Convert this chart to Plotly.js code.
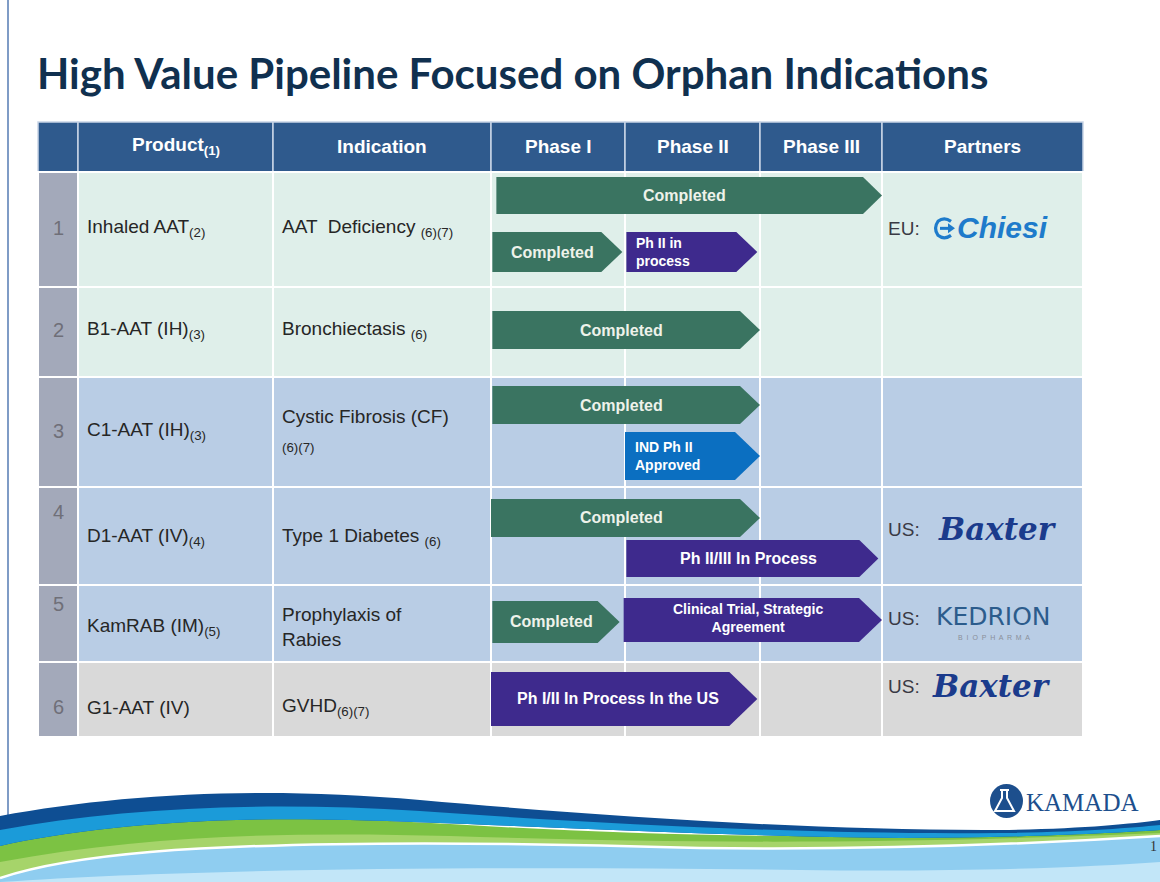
<!DOCTYPE html>
<html><head><meta charset="utf-8">
<script src="https://cdn.plot.ly/plotly-3.0.1.min.js"></script>
<style>html,body{margin:0;padding:0;background:#fff;}#chart{width:1160px;height:882px;}</style>
</head><body><div id="chart"></div>
<script>
// ---------------- DATA ----------------
const rowNumbers = ['1', '2', '3', '4', '5', '6'];
const products = ['Inhaled AAT<sub>(2)</sub>', 'B1-AAT (IH)<sub>(3)</sub>', 'C1-AAT (IH)<sub>(3)</sub>',
                  'D1-AAT (IV)<sub>(4)</sub>', 'KamRAB (IM)<sub>(5)</sub>', 'G1-AAT (IV)'];
const indications = ['AAT  Deficiency <sub>(6)(7)</sub>', 'Bronchiectasis <sub>(6)</sub>',
                     'Cystic Fibrosis (CF)<br><sub>(6)(7)</sub>', 'Type 1 Diabetes <sub>(6)</sub>',
                     'Prophylaxis of<br>Rabies', 'GVHD<sub>(6)(7)</sub>'];
const headers = ['', 'Product<sub>(1)</sub>', 'Indication', 'Phase I', 'Phase II', 'Phase III', 'Partners'];
const partnerRegions = ['EU:', '', '', 'US:', 'US:', 'US:'];
const partnerNames = ['Chiesi', '', '', 'Baxter', 'KEDRION', 'Baxter'];

// bars: row (1-based), start/end in phase units (0 = start of Phase I, 3 = end of Phase III)
const barRow    = [1, 1, 1, 2, 3, 3, 4, 4, 5, 5, 6];
const barStart  = [0.04, 0.01, 1.01, 0.01, 0.01, 1.00, 0.00, 1.01, 0.01, 0.99, 0.00];
const barEnd    = [3.00, 0.98, 1.98, 2.00, 2.00, 2.00, 2.00, 2.97, 0.96, 3.00, 1.98];
const barStatus = ['Completed', 'Completed', 'In process', 'Completed', 'Completed', 'Approved',
                   'Completed', 'In process', 'Completed', 'In process', 'In process'];
const barLabel  = ['Completed', 'Completed', 'Ph II in<br>process', 'Completed', 'Completed',
                   'IND Ph II<br>Approved', 'Completed', 'Ph II/III In Process', 'Completed',
                   'Clinical Trial, Strategic<br>Agreement', 'Ph I/II In Process In the US'];

// ---------------- LAYOUT GEOMETRY (pixel-scaled hidden axes) ----------------
const W = 1160, H = 882;
const COL_EDGES = [38, 78, 273, 491, 625, 760, 882, 1083];
const ROW_EDGES = [122, 172, 287, 377, 487, 585, 662, 737];
const PHASE_EDGES = [491, 625, 760, 882];
// lane placement of each bar inside its row: centre fraction and height (px)
const BAR_CFRAC = [0.204, 0.696, 0.696, 0.478, 0.255, 0.718, 0.316, 0.730, 0.480, 0.455, 0.493];
const BAR_H     = [37, 40, 40, 38, 38, 48, 38, 37, 42, 44, 54];
const BAR_ALIGN = ['c', 'c', 'l', 'c', 'c', 'l', 'c', 'c', 'c', 'c', 'c'];
const STATUS_COLOR = {'Completed': '#3A7461', 'In process': '#3E2A8D', 'Approved': '#0B6FC1'};
const ROW_BG = ['#DFEFEA', '#DFEFEA', '#B9CDE5', '#B9CDE5', '#B9CDE5', '#D9D9D9'];
const NUM_BG = '#A3A9BA';
const HEAD_BG = '#2F5A8D';
const FONT = 'Liberation Sans, Arial, sans-serif';

function phaseX(p) {
  const i = Math.min(Math.floor(p), 2);
  return PHASE_EDGES[i] + (p - i) * (PHASE_EDGES[i + 1] - PHASE_EDGES[i]);
}

const shapes = [];
const ann = [];

// slide left rule
shapes.push({type: 'line', xref: 'x', yref: 'y', x0: 8, x1: 8, y0: 0, y1: H, line: {color: '#7F9CC6', width: 2}});

// ---- bottom decorative wave ----
shapes.push({type: 'path', xref: 'x', yref: 'y', line: {width: 0}, fillcolor: '#8FCDF0',
  path: 'M0,878 C30,868 80,858 150,852 C300,840 500,842 700,848 C850,850 1000,846 1160,836 L1160,882 L0,882 Z'});
shapes.push({type: 'path', xref: 'x', yref: 'y', line: {width: 0}, fillcolor: '#C2E6F8',
  path: 'M0,882 C200,868 500,866 800,870 C950,872 1080,868 1160,862 L1160,882 Z'});
shapes.push({type: 'path', xref: 'x', yref: 'y', line: {width: 0}, fillcolor: '#7CC243',
  path: 'M0,840 C150,814 300,815 450,824 C650,836 850,842 1160,828 L1160,836 C1000,846 850,850 700,848 C500,842 300,840 150,852 C80,858 30,868 0,878 Z'});
shapes.push({type: 'path', xref: 'x', yref: 'y', line: {width: 0}, fillcolor: '#A6D46A',
  path: 'M0,862 C150,834 300,832 450,836 C650,842 850,846 1160,833 L1160,836 C1000,846 850,850 700,848 C500,842 300,840 150,852 C80,858 30,868 0,878 Z'});
shapes.push({type: 'path', xref: 'x', yref: 'y', line: {width: 0}, fillcolor: '#0E4E93',
  path: 'M0,816 C120,794 260,786 420,800 C600,816 820,831 1000,830 C1080,829 1130,824 1160,820 L1160,830 C1100,834 1000,838 900,838 C700,836 500,824 350,820 C200,816 80,828 0,846 Z'});
shapes.push({type: 'path', xref: 'x', yref: 'y', line: {width: 0}, fillcolor: '#1B9BD9',
  path: 'M0,830 C120,808 260,801 420,811 C600,824 820,835 1000,833 C1080,832 1130,828 1160,825 L1160,830 C1100,834 1000,838 900,838 C700,836 500,824 350,820 C200,816 80,828 0,846 Z'});
shapes.push({type: 'path', xref: 'x', yref: 'y', line: {color: '#FFFFFF', width: 2.5},
  path: 'M0,878 C30,868 80,858 150,852 C300,840 500,842 700,848 C850,850 1000,846 1160,836'});

// ---- table: header cells ----
for (let c = 0; c < headers.length; c++) {
  shapes.push({type: 'rect', xref: 'x', yref: 'y', x0: COL_EDGES[c], x1: COL_EDGES[c + 1],
    y0: ROW_EDGES[0], y1: ROW_EDGES[1], fillcolor: HEAD_BG, line: {color: '#C9D5E6', width: 1.5}});
  if (headers[c]) {
    ann.push({xref: 'x', yref: 'y', x: (COL_EDGES[c] + COL_EDGES[c + 1]) / 2, y: (ROW_EDGES[0] + ROW_EDGES[1]) / 2 - 1,
      text: '<b>' + headers[c] + '</b>', showarrow: false, xanchor: 'center', yanchor: 'middle',
      font: {family: FONT, size: 19, color: '#FFFFFF'}});
  }
}
// ---- body cells ----
for (let r = 0; r < rowNumbers.length; r++) {
  const y0 = ROW_EDGES[r + 1], y1 = ROW_EDGES[r + 2];
  for (let c = 0; c < headers.length; c++) {
    shapes.push({type: 'rect', xref: 'x', yref: 'y', x0: COL_EDGES[c], x1: COL_EDGES[c + 1], y0: y0, y1: y1,
      fillcolor: c === 0 ? NUM_BG : ROW_BG[r], line: {color: '#FFFFFF', width: 2}});
  }
}

// row texts
const NUM_Y = [0.49, 0.48, 0.49, 0.26, 0.25, 0.60];
const TXT_Y = [0.49, 0.48, 0.49, 0.51, 0.55, 0.60];
for (let r = 0; r < rowNumbers.length; r++) {
  const y0 = ROW_EDGES[r + 1], h = ROW_EDGES[r + 2] - y0;
  ann.push({xref: 'x', yref: 'y', x: (COL_EDGES[0] + COL_EDGES[1]) / 2, y: y0 + NUM_Y[r] * h,
    text: rowNumbers[r], showarrow: false, xanchor: 'center', yanchor: 'middle',
    font: {family: FONT, size: 20, color: '#6F6F78'}});
  ann.push({xref: 'x', yref: 'y', x: COL_EDGES[1] + 7, y: y0 + TXT_Y[r] * h,
    text: products[r], showarrow: false, xanchor: 'left', yanchor: 'middle',
    font: {family: FONT, size: 19, color: '#262626'}});
  ann.push({xref: 'x', yref: 'y', x: COL_EDGES[2] + 7, y: y0 + TXT_Y[r] * h,
    text: indications[r], showarrow: false, xanchor: 'left', yanchor: 'middle', align: 'left',
    font: {family: FONT, size: 19, color: '#262626'}});
}

// ---- bars (chevrons) ----
for (let i = 0; i < barRow.length; i++) {
  const r = barRow[i] - 1;
  const ry0 = ROW_EDGES[r + 1], rh = ROW_EDGES[r + 2] - ry0;
  const yc = ry0 + BAR_CFRAC[i] * rh, hh = BAR_H[i] / 2;
  const x0 = phaseX(barStart[i]), x1 = phaseX(barEnd[i]);
  const tip = Math.round(BAR_H[i] * 0.52);
  shapes.push({type: 'path', xref: 'x', yref: 'y', fillcolor: STATUS_COLOR[barStatus[i]], line: {width: 0},
    path: `M${x0},${yc - hh} L${x1 - tip},${yc - hh} L${x1},${yc} L${x1 - tip},${yc + hh} L${x0},${yc + hh} Z`});
  const multi = barLabel[i].indexOf('<br>') >= 0;
  if (BAR_ALIGN[i] === 'l') {
    ann.push({xref: 'x', yref: 'y', x: x0 + 8, y: yc, text: '<b>' + barLabel[i] + '</b>', showarrow: false,
      xanchor: 'left', yanchor: 'middle', align: 'left', font: {family: FONT, size: 14, color: '#FFFFFF'}});
  } else {
    ann.push({xref: 'x', yref: 'y', x: (x0 + x1 - tip * 0.45) / 2, y: yc - (multi ? 2 : 0), text: '<b>' + barLabel[i] + '</b>',
      showarrow: false, xanchor: 'center', yanchor: 'middle', align: 'center',
      font: {family: FONT, size: multi ? 14 : 16, color: barStatus[i] === 'Completed' ? '#EEF2EA' : '#FFFFFF'}});
  }
}

// ---- partners ----
const REGION_Y = [0.49, 0, 0, 0.43, 0.43, 0.32];
for (let r = 0; r < rowNumbers.length; r++) {
  if (!partnerRegions[r]) continue;
  const y0 = ROW_EDGES[r + 1], h = ROW_EDGES[r + 2] - y0;
  const yc = y0 + REGION_Y[r] * h;
  ann.push({xref: 'x', yref: 'y', x: COL_EDGES[6] + 4, y: yc, text: partnerRegions[r], showarrow: false,
    xanchor: 'left', yanchor: 'middle', font: {family: FONT, size: 19, color: '#3A3A44'}});
  const name = partnerNames[r];
  if (name === 'Chiesi') {
    // circular arrow mark
    shapes.push({type: 'path', xref: 'x', yref: 'y', line: {color: '#1E7BCB', width: 3.2},
      path: `M951,${yc - 7} Q944,${yc - 12} 938,${yc - 7} Q933,${yc} 938,${yc + 7} Q944,${yc + 12} 951,${yc + 7}`});
    shapes.push({type: 'line', xref: 'x', yref: 'y', x0: 940, x1: 950, y0: yc, y1: yc, line: {color: '#1E7BCB', width: 3}});
    shapes.push({type: 'path', xref: 'x', yref: 'y', fillcolor: '#1E7BCB', line: {width: 0},
      path: `M948,${yc - 5} L955,${yc} L948,${yc + 5} Z`});
    ann.push({xref: 'x', yref: 'y', x: 955, y: yc - 1, text: '<b><i>Chiesi</i></b>', showarrow: false,
      xanchor: 'left', yanchor: 'middle', font: {family: FONT, size: 30, color: '#1E7BCB'}});
  } else if (name === 'Baxter') {
    ann.push({xref: 'x', yref: 'y', x: r === 3 ? 936 : 930, y: yc, text: '<b><i>Baxter</i></b>', showarrow: false,
      xanchor: 'left', yanchor: 'middle', font: {family: 'DejaVu Serif, serif', size: 31, color: '#1B3B8C'}});
  } else if (name === 'KEDRION') {
    ann.push({xref: 'x', yref: 'y', x: 934, y: yc - 2, text: 'KEDRION', showarrow: false,
      xanchor: 'left', yanchor: 'middle', font: {family: 'DejaVu Sans, sans-serif', size: 25, color: '#2C5C8C'}});
    ann.push({xref: 'x', yref: 'y', x: 994, y: yc + 19, text: 'B  I  O  P  H  A  R  M  A', showarrow: false,
      xanchor: 'center', yanchor: 'middle', font: {family: FONT, size: 7, color: '#8A8F9A'}});
  }
}

// ---- title ----
ann.push({xref: 'x', yref: 'y', x: 35, y: 73, text: '<b>High Value Pipeline Focused on Orphan Indications</b>',
  showarrow: false, xanchor: 'left', yanchor: 'middle', font: {family: 'Lato, sans-serif', size: 42, color: '#10304F'}});

// ---- KAMADA logo & page number ----
shapes.push({type: 'circle', xref: 'x', yref: 'y', x0: 990, x1: 1023, y0: 784, y1: 818, fillcolor: '#1D4F8D', line: {width: 0}});
shapes.push({type: 'path', xref: 'x', yref: 'y', line: {color: '#FFFFFF', width: 2},
  path: 'M1002,790 L1002,798 L995,811 L1014,811 L1007,798 L1007,790 M1000,790 L1009,790'});
ann.push({xref: 'x', yref: 'y', x: 1024, y: 802, text: 'KAMADA', showarrow: false, xanchor: 'left', yanchor: 'middle',
  font: {family: 'Liberation Serif, serif', size: 25, color: '#1D4F8D'}});
ann.push({xref: 'x', yref: 'y', x: 1153, y: 846, text: '1', showarrow: false, xanchor: 'center', yanchor: 'middle',
  font: {family: 'Liberation Serif, serif', size: 14, color: '#333333'}});

const layout = {
  width: W, height: H, margin: {l: 0, r: 0, t: 0, b: 0},
  paper_bgcolor: '#FFFFFF', plot_bgcolor: '#FFFFFF', showlegend: false,
  xaxis: {range: [0, W], visible: false, fixedrange: true},
  yaxis: {range: [H, 0], visible: false, fixedrange: true},
  shapes: shapes, annotations: ann
};
Plotly.newPlot('chart', [], layout, {displayModeBar: false, staticPlot: true});
</script>
</body></html>
